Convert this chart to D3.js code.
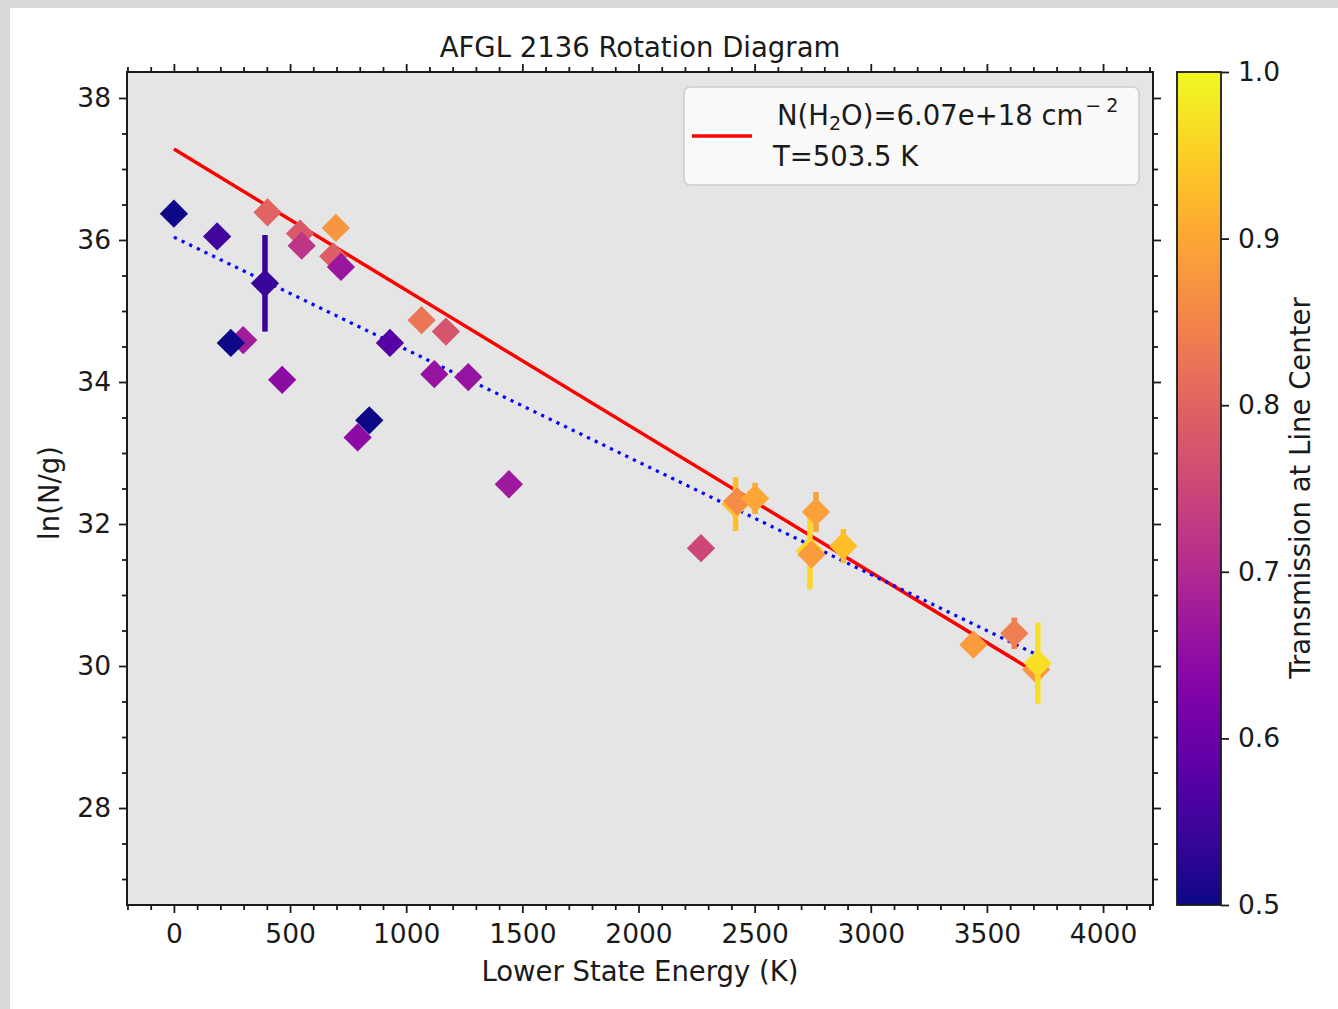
<!DOCTYPE html>
<html>
<head>
<meta charset="utf-8">
<script src="https://cdn.jsdelivr.net/npm/d3@7"></script>
<style>
  body { margin: 0; background: #d9d9d9; }
  svg { display: block; }
  text { font-family: "DejaVu Sans", sans-serif; fill: #1a1a1a; }
</style>
</head>
<body>
<script>
// lower state energy (K) of each line
var energy = [0, 186, 392, 403, 543, 550, 686, 697, 719, 298, 245, 466, 791, 841, 930,
              1066, 1171, 1121, 1267, 1442, 2269, 2418, 2425, 2502, 2738, 2745, 2764,
              2882, 3442, 3618, 3712, 3719];
// ln(N/g)
var lnNg = [36.37, 36.05, 35.39, 36.39, 36.09, 35.92, 35.77, 36.17, 35.62, 34.59, 34.55,
            34.03, 33.22, 33.46, 34.55, 34.87, 34.71, 34.11, 34.07, 32.56, 31.66, 32.28,
            32.32, 32.36, 31.62, 31.57, 32.17, 31.69, 30.30, 30.46, 29.95, 30.04];
// error on ln(N/g), 0 where no bar is drawn
var lnNgErr = [0, 0, 0.68, 0, 0, 0, 0, 0, 0, 0, 0, 0, 0, 0, 0, 0, 0, 0, 0, 0, 0, 0.38,
               0, 0.22, 0.54, 0, 0.28, 0.24, 0, 0.22, 0, 0.57];
// transmission at line center (colour)
var transmission = [0.50, 0.55, 0.54, 0.80, 0.78, 0.72, 0.79, 0.875, 0.665, 0.675, 0.50,
                    0.645, 0.645, 0.50, 0.575, 0.83, 0.775, 0.66, 0.66, 0.67, 0.75, 0.93,
                    0.86, 0.90, 0.96, 0.885, 0.89, 0.93, 0.885, 0.84, 0.88, 0.97];

// fit lines (end points)
var fitEnergy = [0, 3720];
var redFit = [37.28, 29.89];
var blueFit = [36.04, 30.15];

var xTicks = [0, 500, 1000, 1500, 2000, 2500, 3000, 3500, 4000];
var yTicks = [28, 30, 32, 34, 36, 38];
var cTicks = [0.5, 0.6, 0.7, 0.8, 0.9, 1.0];

var width = 1338;
var height = 1009;

// plot area
var pad = { left: 127, right: 1153, top: 72, bottom: 905 };

var svg = d3.select("body")
            .append("svg")
            .attr("width", width)
            .attr("height", height);

// white figure over the grey frame
svg.append("rect")
   .attr("x", 10)
   .attr("y", 8)
   .attr("width", width - 10)
   .attr("height", height - 8)
   .attr("fill", "white");

var xScale = d3.scaleLinear()
               .domain([-202, 4215])
               .range([pad.left, pad.right]);
var yScale = d3.scaleLinear()
               .domain([26.634, 38.366])
               .range([pad.bottom, pad.top]);
var cScale = d3.scaleLinear()
               .domain([0.5, 1.0])
               .range([pad.bottom, pad.top]);
var colour = function(v) {
    return d3.interpolatePlasma((v - 0.5) / 0.5);
};

// axes background
svg.append("rect")
   .attr("x", pad.left)
   .attr("y", pad.top)
   .attr("width", pad.right - pad.left)
   .attr("height", pad.bottom - pad.top)
   .attr("fill", "#e5e5e5");

var plot = svg.append("g");

// red fit
var line = d3.line()
             .x(function(d){ return xScale(d[0]); })
             .y(function(d){ return yScale(d[1]); });

plot.append("path")
    .datum(d3.zip(fitEnergy, redFit))
    .attr("d", line)
    .attr("fill", "none")
    .attr("stroke", "#ff0000")
    .attr("stroke-width", 3.5);

// blue dotted fit
plot.append("path")
    .datum(d3.zip(fitEnergy, blueFit))
    .attr("d", line)
    .attr("fill", "none")
    .attr("stroke", "#0000ff")
    .attr("stroke-width", 3.2)
    .attr("stroke-dasharray", "3.2,5.3");

// points with error bars
var pts = d3.range(energy.length);
pts.forEach(function(i){
    var c = colour(transmission[i]);
    if (lnNgErr[i] > 0) {
        plot.append("line")
            .attr("x1", xScale(energy[i]))
            .attr("x2", xScale(energy[i]))
            .attr("y1", yScale(lnNg[i] - lnNgErr[i]))
            .attr("y2", yScale(lnNg[i] + lnNgErr[i]))
            .attr("stroke", c)
            .attr("stroke-width", 5.5);
    }
    plot.append("path")
        .attr("d", d3.symbol().type(d3.symbolSquare).size(400))
        .attr("transform", "translate(" + xScale(energy[i]) + "," + yScale(lnNg[i]) + ") rotate(45)")
        .attr("fill", c);
});

// axes with ticks on all four sides
var xMinor = d3.range(-200, 4201, 100).filter(function(v){ return v % 500 != 0; });
var yMinor = d3.range(27, 38.5, 0.5).filter(function(v){ return v % 2 != 0; });

var styleAxis = function(g) {
    g.select(".domain").remove();
    g.selectAll("line").attr("stroke", "#1a1a1a").attr("stroke-width", 1.8);
    g.selectAll("text").attr("font-size", 26.5).attr("fill", "#1a1a1a")
     .attr("font-family", "DejaVu Sans");
};

svg.append("g")
   .attr("transform", "translate(0," + pad.bottom + ")")
   .call(d3.axisBottom(xScale).tickValues(xTicks).tickFormat(d3.format("d"))
         .tickSize(8).tickPadding(11))
   .call(styleAxis);
svg.append("g")
   .attr("transform", "translate(0," + pad.bottom + ")")
   .call(d3.axisBottom(xScale).tickValues(xMinor).tickFormat("").tickSize(5))
   .call(styleAxis);
svg.append("g")
   .attr("transform", "translate(0," + pad.top + ")")
   .call(d3.axisTop(xScale).tickValues(xTicks).tickFormat("").tickSize(8))
   .call(styleAxis);
svg.append("g")
   .attr("transform", "translate(0," + pad.top + ")")
   .call(d3.axisTop(xScale).tickValues(xMinor).tickFormat("").tickSize(5))
   .call(styleAxis);

svg.append("g")
   .attr("transform", "translate(" + pad.left + ",0)")
   .call(d3.axisLeft(yScale).tickValues(yTicks).tickFormat(d3.format("d"))
         .tickSize(8).tickPadding(8))
   .call(styleAxis);
svg.append("g")
   .attr("transform", "translate(" + pad.left + ",0)")
   .call(d3.axisLeft(yScale).tickValues(yMinor).tickFormat("").tickSize(5))
   .call(styleAxis);
svg.append("g")
   .attr("transform", "translate(" + pad.right + ",0)")
   .call(d3.axisRight(yScale).tickValues(yTicks).tickFormat("").tickSize(8))
   .call(styleAxis);
svg.append("g")
   .attr("transform", "translate(" + pad.right + ",0)")
   .call(d3.axisRight(yScale).tickValues(yMinor).tickFormat("").tickSize(5))
   .call(styleAxis);

// frame
svg.append("rect")
   .attr("x", pad.left)
   .attr("y", pad.top)
   .attr("width", pad.right - pad.left)
   .attr("height", pad.bottom - pad.top)
   .attr("fill", "none")
   .attr("stroke", "#1a1a1a")
   .attr("stroke-width", 2);

// legend
var leg = svg.append("g");
leg.append("rect")
   .attr("x", 684).attr("y", 87)
   .attr("width", 455).attr("height", 98)
   .attr("rx", 6)
   .attr("fill", "white").attr("fill-opacity", 0.8)
   .attr("stroke", "#cccccc").attr("stroke-width", 1.5);
leg.append("line")
   .attr("x1", 692).attr("x2", 752)
   .attr("y1", 136).attr("y2", 136)
   .attr("stroke", "#ff0000").attr("stroke-width", 3.5);
var l1 = leg.append("text").attr("x", 777).attr("y", 125).attr("font-size", 27.5);
l1.append("tspan").text("N(H");
l1.append("tspan").attr("font-size", 19).attr("dy", 5).text("2");
l1.append("tspan").attr("dy", -5).text("O)=6.07e+18 cm");
l1.append("tspan").attr("font-size", 19).attr("dy", -13).attr("dx", 2).text("\u2212");
l1.append("tspan").attr("font-size", 19).attr("dx", 5).text("2");
leg.append("text").attr("x", 773).attr("y", 166).attr("font-size", 27.5)
   .text("T=503.5 K");

// colourbar
var cb = { x: 1177, w: 44 };
var grad = svg.append("defs").append("linearGradient")
              .attr("id", "plasma")
              .attr("x1", 0).attr("y1", 1).attr("x2", 0).attr("y2", 0);
d3.range(0, 1.0001, 0.05).forEach(function(t){
    grad.append("stop").attr("offset", t).attr("stop-color", d3.interpolatePlasma(t));
});
svg.append("rect")
   .attr("x", cb.x).attr("y", pad.top)
   .attr("width", cb.w).attr("height", pad.bottom - pad.top)
   .attr("fill", "url(#plasma)")
   .attr("stroke", "#1a1a1a").attr("stroke-width", 1.8);
svg.append("g")
   .attr("transform", "translate(" + (cb.x + cb.w) + ",0)")
   .call(d3.axisRight(cScale).tickValues(cTicks).tickFormat(d3.format(".1f"))
         .tickSize(8).tickPadding(9))
   .call(styleAxis);

// titles and labels
svg.append("text")
   .attr("x", (pad.left + pad.right) / 2).attr("y", 57)
   .attr("text-anchor", "middle").attr("font-size", 27.5)
   .text("AFGL 2136 Rotation Diagram");
svg.append("text")
   .attr("x", (pad.left + pad.right) / 2).attr("y", 981)
   .attr("text-anchor", "middle").attr("font-size", 27.5)
   .text("Lower State Energy (K)");
svg.append("text")
   .attr("transform", "translate(59,493) rotate(-90)")
   .attr("text-anchor", "middle").attr("font-size", 27.5)
   .text("ln(N/g)");
svg.append("text")
   .attr("transform", "translate(1310,488) rotate(-90)")
   .attr("text-anchor", "middle").attr("font-size", 27.5)
   .text("Transmission at Line Center");
</script>
</body>
</html>
